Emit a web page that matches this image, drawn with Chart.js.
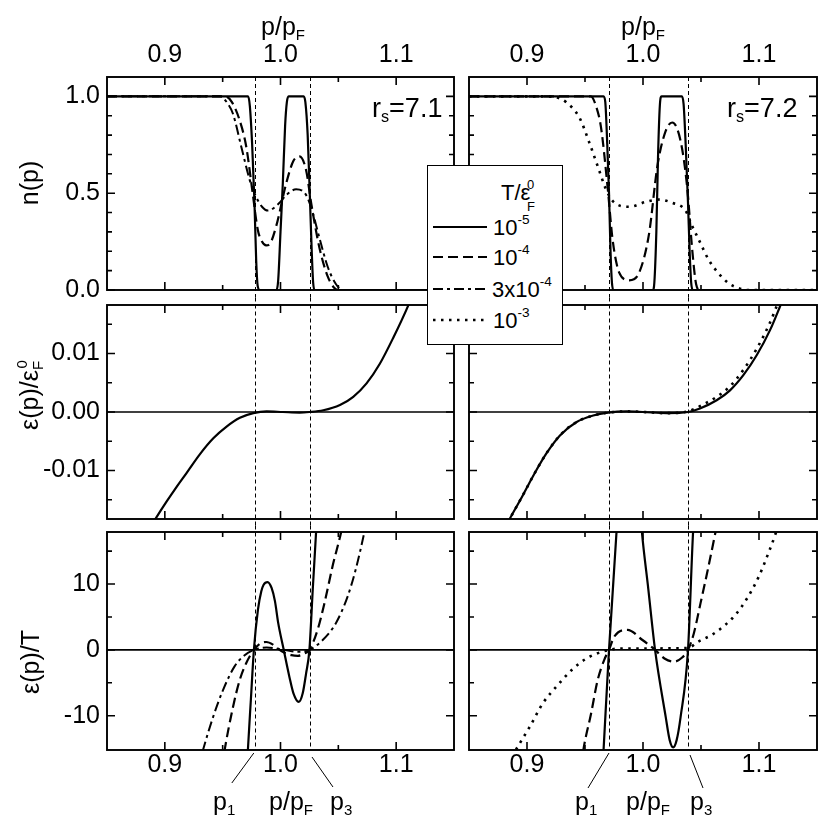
<!DOCTYPE html>
<html><head><meta charset="utf-8">
<script src="https://cdn.jsdelivr.net/npm/chart.js@4"></script>
<style>
html,body{margin:0;padding:0;background:#fff;}
#wrap{position:relative;width:830px;height:830px;overflow:hidden;font-family:"Liberation Sans",Arial,sans-serif;color:#000;background:#fff;}
canvas{position:absolute;left:0;top:0;}
.t{position:absolute;white-space:nowrap;line-height:1;font-size:25px;}
.sb{font-size:0.6em;position:relative;top:0.32em;}
.sp{font-size:0.6em;position:relative;top:-0.75em;}
.rot{transform:translate(-50%,-50%) rotate(-90deg);}
.ctr{transform:translateX(-50%);}
#legend{position:absolute;left:427px;top:165px;width:136px;height:180px;box-sizing:border-box;border:1.8px solid #000;background:#fff;}
.lg{position:absolute;white-space:nowrap;line-height:1;font-size:22px;}
.lsp{font-size:0.62em;position:relative;top:-0.85em;}
</style></head>
<body>
<div id="wrap">
  <canvas id="c0" width="830" height="830"></canvas>
  <canvas id="c1" width="830" height="830"></canvas>
  <canvas id="c2" width="830" height="830"></canvas>
  <canvas id="c3" width="830" height="830"></canvas>
  <canvas id="c4" width="830" height="830"></canvas>
  <canvas id="c5" width="830" height="830"></canvas>

  <div class="t ctr" style="left:283px;top:14px;">p/p<span class="sb">F</span></div>
  <div class="t ctr" style="left:643px;top:14px;">p/p<span class="sb">F</span></div>

  <div class="t rot" style="left:29px;top:183px;">n(p)</div>
  <div class="t rot" style="left:29px;top:395px;">ε(p)/ε<span class="sb">F</span><span class="sp" style="margin-left:-0.5em">0</span></div>
  <div class="t rot" style="left:30px;top:662px;">ε(p)/T</div>

  <div class="t" style="left:372px;top:95px;font-size:27px;">r<span class="sb">s</span>=7.1</div>
  <div class="t" style="left:727px;top:95px;font-size:27px;">r<span class="sb">s</span>=7.2</div>

  <div class="t" style="left:213px;top:789px;">p<span class="sb">1</span></div>
  <div class="t ctr" style="left:291px;top:789px;">p/p<span class="sb">F</span></div>
  <div class="t" style="left:330px;top:789px;">p<span class="sb">3</span></div>
  <div class="t" style="left:575px;top:789px;">p<span class="sb">1</span></div>
  <div class="t ctr" style="left:648px;top:789px;">p/p<span class="sb">F</span></div>
  <div class="t" style="left:690px;top:789px;">p<span class="sb">3</span></div>

  <div id="legend"></div>
</div>
<script>
// ---------------- DATA ----------------
const xTicks = [0.9, 0.95, 1.0, 1.05, 1.1];
const xTickLabels = [0.9, 1.0, 1.1];
const nTicks = [0, 0.1, 0.2, 0.3, 0.4, 0.5, 0.6, 0.7, 0.8, 0.9, 1.0];
const nTickLabels = [0, 0.5, 1.0];
const eTicks = [-0.015, -0.01, -0.005, 0, 0.005, 0.01, 0.015];
const eTickLabels = [-0.01, 0, 0.01];
const tTicks = [-10, -5, 0, 5, 10, 15];
const tTickLabels = [-10, 0, 10];

const seriesNames = ['10^-5', '10^-4', '3x10^-4', '10^-3'];
const rsValues = [7.1, 7.2];
const pMarks71 = [0.9778, 1.0255];   // p1, p3 for rs=7.1
const pMarks72 = [0.9707, 1.0388];   // p1, p3 for rs=7.2

// n(p), rs = 7.1
const n71SolidP = [0.85,0.972,0.9735,0.9755,0.9775,0.979,0.9803,0.982,0.9965,0.998,1.0,1.002,1.004,1.0055,1.007,1.02,1.0215,1.0235,1.0253,1.027,1.0282,1.0295,1.15];
const n71SolidV = [1,1,0.95,0.75,0.45,0.15,0.02,0,0,0.05,0.3,0.55,0.85,0.97,1,1,0.97,0.8,0.5,0.2,0.04,0,0];
const n71DashP = [0.85,0.952,0.958,0.9647,0.9704,0.9756,0.9804,0.984,0.9876,0.991,0.9963,1.0049,1.011,1.0164,1.0221,1.0265,1.0336,1.0408,1.0466,1.05,1.15];
const n71DashV = [1,1,0.97,0.876,0.74,0.515,0.31,0.25,0.23,0.24,0.33,0.55,0.665,0.69,0.62,0.45,0.22,0.07,0.01,0,0];
const n71DashDotP = [0.85,0.948,0.9535,0.9589,0.9661,0.9733,0.979,0.984,0.9891,0.9991,1.0049,1.0135,1.0222,1.0278,1.0336,1.0408,1.048,1.054,1.15];
const n71DashDotV = [1,1,0.97,0.91,0.74,0.57,0.48,0.43,0.41,0.45,0.49,0.52,0.49,0.40,0.27,0.12,0.03,0,0];

// n(p), rs = 7.2
const n72SolidP = [0.85,0.966,0.9675,0.9692,0.9707,0.972,0.9732,0.9745,1.0085,1.0098,1.0115,1.013,1.0145,1.016,1.0335,1.035,1.0368,1.0388,1.0402,1.0415,1.043,1.15];
const n72SolidV = [1,1,0.97,0.75,0.5,0.2,0.04,0,0,0.04,0.3,0.7,0.95,1,1,0.96,0.75,0.45,0.2,0.04,0,0];
const n72DashP = [0.85,0.955,0.9595,0.9638,0.9695,0.9738,0.9795,0.9881,0.9967,1.0052,1.0124,1.0195,1.0252,1.0324,1.0381,1.0424,1.0458,1.049,1.15];
const n72DashV = [1,1,0.95,0.84,0.53,0.26,0.09,0.05,0.09,0.29,0.64,0.82,0.865,0.77,0.53,0.21,0.03,0,0];
const n72DotP = [0.85,0.915,0.925,0.9338,0.9452,0.9538,0.9609,0.9681,0.9738,0.9881,1.0024,1.0138,1.0252,1.0367,1.0424,1.0481,1.0567,1.0653,1.0738,1.082,1.09,1.15];
const n72DotV = [1,1,0.995,0.97,0.89,0.76,0.64,0.52,0.46,0.43,0.455,0.467,0.45,0.41,0.33,0.26,0.155,0.085,0.035,0.01,0,0];

// eps(p)/eps_F0, rs = 7.1
const e71SolidP = [0.885,0.8915,0.9016,0.9102,0.9189,0.9304,0.9419,0.9534,0.9649,0.9765,0.988,1.002,1.0165,1.025,1.037,1.0514,1.0629,1.0744,1.086,1.0975,1.1104,1.116];
const e71SolidV = [-0.0205,-0.0184,-0.0153,-0.0128,-0.0104,-0.0072,-0.0045,-0.0025,-0.0010,-0.0002,0.0001,0,-0.0001,0,0.0003,0.0012,0.0026,0.0049,0.0083,0.0127,0.0182,0.021];

// eps(p)/eps_F0, rs = 7.2
const e72SolidP = [0.88,0.8853,0.8968,0.9054,0.917,0.9284,0.9428,0.9571,0.970,0.9857,1.0,1.0204,1.0388,1.0491,1.0635,1.075,1.0865,1.098,1.1095,1.118,1.122];
const e72SolidV = [-0.0201,-0.0182,-0.0141,-0.0109,-0.0070,-0.0040,-0.0017,-0.0006,-0.0001,0.0001,0,-0.0002,0,0.0006,0.002,0.0037,0.0063,0.0097,0.014,0.018,0.02];
const e72DotP = [0.88,0.8853,0.8968,0.9054,0.917,0.9284,0.9428,0.9571,0.970,0.9857,1.0,1.0204,1.0388,1.0491,1.0635,1.075,1.0865,1.098,1.1095,1.118];
const e72DotV = [-0.0201,-0.0182,-0.0141,-0.0109,-0.0070,-0.0040,-0.0017,-0.0006,-0.0001,0.0001,0,-0.0002,0.0001,0.0010,0.0026,0.0044,0.0072,0.0108,0.0153,0.0195];

// eps(p)/T, rs = 7.1
const t71SolidP = [0.9705,0.9718,0.9744,0.977,0.9805,0.9834,0.9854,0.9888,0.9923,0.9952,0.998,1.0028,1.0077,1.0112,1.0158,1.0192,1.0221,1.025,1.0279,1.0308,1.033];
const t71SolidV = [-20,-15.2,-7.5,0,6.1,8.9,9.9,10.3,9.4,7.4,4.1,0,-4.1,-6.6,-7.9,-6.6,-3.6,0,9.2,18,25];
const t71DashP = [0.9475,0.9517,0.9589,0.9647,0.9704,0.977,0.982,0.9877,0.9935,0.9977,1.003,1.0095,1.015,1.02,1.025,1.032,1.038,1.045,1.0523,1.056];
const t71DashV = [-20,-15.2,-8.7,-4.6,-2.0,0,0.9,1.2,0.8,0.2,-0.4,-0.8,-0.9,-0.6,0,3.0,7.1,12.7,17.8,21];
const t71DashDotP = [0.928,0.933,0.9417,0.9503,0.9603,0.969,0.977,0.988,1.0,1.015,1.025,1.0365,1.048,1.058,1.065,1.0724,1.076];
const t71DashDotV = [-18.5,-15.2,-10.2,-6.1,-2.5,-0.8,0,0.35,0.1,-0.3,0,1.5,4.1,8.1,12.2,17.8,21];

// eps(p)/T, rs = 7.2
const t72SolidP = [0.9645,0.966,0.9707,0.9772,0.981,0.988,0.995,0.999,1.0046,1.0104,1.0196,1.023,1.026,1.029,1.0324,1.0388,1.0432,1.046];
const t72SolidV = [-20,-15.2,0,18,27,33,27,18,9.2,0,-10.2,-13.7,-14.8,-13.7,-10.2,0,18,25];
const t72DashP = [0.945,0.9486,0.9552,0.9609,0.9666,0.9707,0.9752,0.9866,0.9995,1.0104,1.0185,1.0267,1.0335,1.0388,1.0438,1.0496,1.0553,1.0624,1.066];
const t72DashV = [-20,-15.2,-9.7,-4.6,-1.5,0,2.0,3.05,1.5,0,-1.3,-1.8,-1.2,0,2.5,7.1,11.7,17.8,21];
const t72DotP = [0.887,0.8937,0.9023,0.9137,0.9252,0.9395,0.9495,0.9595,0.9707,0.98,1.0,1.03,1.0388,1.0481,1.0595,1.071,1.08,1.09,1.1,1.107,1.114,1.12];
const t72DotV = [-16.2,-14.2,-11.7,-8.1,-5.6,-2.9,-1.5,-0.6,0,0.2,0.2,0.25,0.3,1.3,2.3,3.8,5.4,7.9,11.2,14.2,17.5,21];

// ---------------- STYLE / LAYOUT ----------------
Chart.defaults.font.family = '"Liberation Sans", Arial, sans-serif';
Chart.defaults.font.size = 25;
Chart.defaults.color = '#000';

const styles = [
  {borderDash: [], borderWidth: 2.2},
  {borderDash: [10, 5], borderWidth: 2.2},
  {borderDash: [10, 4, 3, 4], borderWidth: 2},
  {borderDash: [2.5, 5.5], borderWidth: 2.6}
];
const cols = [{l: 107, r: 454}, {l: 469, r: 817}];
const rows = [{t: 77, b: 290}, {t: 305, b: 519}, {t: 532, b: 750}];

function mk(ps, vs) { return ps.map((p, i) => ({x: p, y: vs[i]})); }
function ds(ps, vs, si) {
  return Object.assign({data: mk(ps, vs), borderColor: '#000', pointRadius: 0, fill: false,
    cubicInterpolationMode: 'monotone', borderCapStyle: 'butt', borderJoinStyle: 'round'}, styles[si]);
}
function near(v, arr) { return arr.some(a => Math.abs(a - v) < 1e-9); }

const framePlugin = {
  id: 'frame',
  beforeDatasetsDraw(chart, args, o) {
    const {ctx, chartArea: a, scales: {x, y}} = chart;
    ctx.save();
    ctx.strokeStyle = '#000';
    if (o.zero) {
      const yy = y.getPixelForValue(0);
      ctx.lineWidth = 1.6;
      ctx.beginPath(); ctx.moveTo(a.left, yy); ctx.lineTo(a.right, yy); ctx.stroke();
    }
    ctx.lineWidth = 1;
    ctx.setLineDash([4, 3]);
    for (const v of o.vlines) {
      const xx = Math.round(x.getPixelForValue(v)) + 0.5;
      ctx.beginPath(); ctx.moveTo(xx, a.top - o.extTop); ctx.lineTo(xx, a.bottom + o.extBot); ctx.stroke();
    }
    ctx.restore();
  },
  afterDraw(chart, args, o) {
    const {ctx, chartArea: a, scales: {x, y}} = chart;
    ctx.save();
    ctx.strokeStyle = '#000';
    ctx.lineWidth = 1.6;
    x.ticks.forEach(t => {
      const len = near(t.value, o.xMajor) ? 8 : 5;
      const px = x.getPixelForValue(t.value);
      ctx.beginPath();
      ctx.moveTo(px, a.top); ctx.lineTo(px, a.top + len);
      ctx.moveTo(px, a.bottom); ctx.lineTo(px, a.bottom - len);
      ctx.stroke();
    });
    y.ticks.forEach(t => {
      const len = near(t.value, o.yMajor) ? 8 : 5;
      const py = y.getPixelForValue(t.value);
      ctx.beginPath();
      ctx.moveTo(a.left, py); ctx.lineTo(a.left + len, py);
      ctx.moveTo(a.right, py); ctx.lineTo(a.right - len, py);
      ctx.stroke();
    });
    ctx.lineWidth = 1.9;
    ctx.strokeRect(a.left, a.top, a.right - a.left, a.bottom - a.top);
    if (o.annot) {
      ctx.lineWidth = 1;
      o.vlines.forEach((v, i) => {
        const px = x.getPixelForValue(v);
        const d = o.annot[i];
        ctx.beginPath();
        ctx.moveTo(px + d[0], a.bottom + d[1]);
        ctx.lineTo(px + d[2], a.bottom + d[3]);
        ctx.stroke();
      });
    }
    ctx.restore();
  }
};

function makeChart(id, col, row, datasets, yCfg, pm, extra) {
  const c = cols[col], r = rows[row];
  const xPos = row === 0 ? 'top' : 'bottom';
  const yW = col === 0 ? 100 : 0;
  const xH = row === 1 ? 0 : 60;
  new Chart(document.getElementById(id), {
    type: 'line',
    data: {datasets},
    plugins: [framePlugin],
    options: {
      responsive: false, animation: false, events: [],
      layout: {autoPadding: false, padding: {
        left: c.l - yW, right: 830 - c.r,
        top: row === 0 ? r.t - xH : r.t,
        bottom: row === 0 ? 830 - r.b : 830 - r.b - xH}},
      plugins: {
        legend: {display: false}, tooltip: {enabled: false},
        frame: Object.assign({vlines: pm, xMajor: xTickLabels, yMajor: yCfg.labels, zero: row > 0,
          extTop: row === 0 ? 0 : (row === 1 ? 7.5 : 6.5), extBot: row === 2 ? 0 : (row === 0 ? 7.5 : 6.5)}, extra || {})
      },
      scales: {
        x: {
          type: 'linear', position: xPos, min: 0.85, max: 1.15,
          afterFit: s => { s.height = xH; },
          afterBuildTicks: s => { s.ticks = xTicks.map(v => ({value: v})); },
          grid: {display: false, drawTicks: false}, border: {display: false},
          ticks: {display: row !== 1, autoSkip: false, maxRotation: 0, minRotation: 0, padding: row === 0 ? 7 : 0,
            callback: v => near(v, xTickLabels) ? v.toFixed(1) : ''}
        },
        y: {
          type: 'linear', position: 'left', min: yCfg.min, max: yCfg.max,
          afterFit: s => { s.width = yW; },
          afterBuildTicks: s => { s.ticks = yCfg.ticks.map(v => ({value: v})); },
          grid: {display: false, drawTicks: false}, border: {display: false},
          ticks: {display: col === 0, autoSkip: false, padding: 7,
            callback: v => near(v, yCfg.labels) ? yCfg.fmt(v) : ''}
        }
      }
    }
  });
}

const yN = {min: 0, max: 1.1, ticks: nTicks, labels: nTickLabels, fmt: v => v.toFixed(1)};
const yE = {min: -0.0183, max: 0.0183, ticks: eTicks, labels: eTickLabels, fmt: v => v.toFixed(2)};
const yT = {min: -15.2, max: 17.9, ticks: tTicks, labels: tTickLabels, fmt: v => String(Math.round(v))};

makeChart('c0', 0, 0, [ds(n71SolidP, n71SolidV, 0), ds(n71DashP, n71DashV, 1), ds(n71DashDotP, n71DashDotV, 2)], yN, pMarks71);
makeChart('c1', 1, 0, [ds(n72SolidP, n72SolidV, 0), ds(n72DashP, n72DashV, 1), ds(n72DotP, n72DotV, 3)], yN, pMarks72);
makeChart('c2', 0, 1, [ds(e71SolidP, e71SolidV, 0)], yE, pMarks71);
makeChart('c3', 1, 1, [ds(e72DotP, e72DotV, 3), ds(e72SolidP, e72SolidV, 0)], yE, pMarks72);
makeChart('c4', 0, 2, [ds(t71SolidP, t71SolidV, 0), ds(t71DashP, t71DashV, 1), ds(t71DashDotP, t71DashDotV, 2)], yT, pMarks71,
  {annot: [[-1, 3, -23, 33], [2, 7, 23, 37]]});
makeChart('c5', 1, 2, [ds(t72SolidP, t72SolidV, 0), ds(t72DashP, t72DashV, 1), ds(t72DotP, t72DotV, 3)], yT, pMarks72,
  {annot: [[0, 3, -21, 38], [2, 5, 15, 38]]});

// ---------------- LEGEND ----------------
(function buildLegend() {
  const lg = document.getElementById('legend');
  const L = 427, T = 165;
  let html = '<div class="lg" style="left:' + (500 - L) + 'px;top:' + (181 - T) + 'px;">T/ε</div>' +
    '<div class="lg" style="left:' + (526 - L) + 'px;top:' + (177 - T) + 'px;font-size:13px;">0</div>' +
    '<div class="lg" style="left:' + (526 - L) + 'px;top:' + (199 - T) + 'px;font-size:13px;">F</div>';
  const baselines = [235, 265, 297, 328];
  let svg = '<svg style="position:absolute;left:0;top:0;" width="134" height="178">';
  seriesNames.forEach((name, i) => {
    const parts = name.split('^');
    const txt = parts[0] + '<span class="lsp">' + parts[1] + '</span>';
    const left = name.startsWith('3') ? 491 : 492;
    html += '<div class="lg" style="left:' + (left - L) + 'px;top:' + (baselines[i] - 18.6 - T) + 'px;">' + txt + '</div>';
    const yy = baselines[i] - 9 - T;
    const st = styles[i];
    svg += '<line x1="' + (432 - L) + '" x2="' + (486 - L) + '" y1="' + yy + '" y2="' + yy + '" stroke="#000" stroke-width="' + st.borderWidth + '"' +
      (st.borderDash.length ? ' stroke-dasharray="' + st.borderDash.join(',') + '"' : '') + '/>';
  });
  svg += '</svg>';
  lg.innerHTML = svg + html;
})();
</script>
</body></html>
